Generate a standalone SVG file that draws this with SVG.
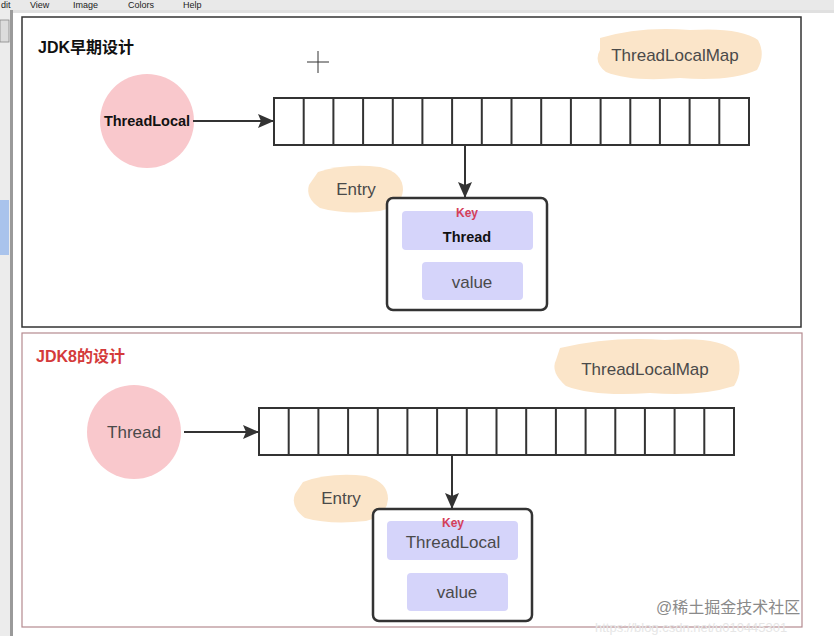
<svg xmlns="http://www.w3.org/2000/svg" width="834" height="636" viewBox="0 0 834 636">
<defs>
<style>
.cell{fill:#fff;stroke:#333;stroke-width:2}
.div{stroke:#333;stroke-width:2;fill:none}
.conn{stroke:#333;stroke-width:2;fill:none}
.blob{fill:#fbe5c9}
.circ{fill:#f9c8cc}
.entry{fill:#fff;stroke:#333;stroke-width:2.5}
.inner{fill:#d5d4fa}
.t{font-family:"Liberation Sans","Noto Sans CJK SC",sans-serif}
.lbl{font-size:17px;fill:#4a4a4a}
.key{font-size:12px;font-weight:bold;fill:#d4405a}
.menu{font-size:9px;fill:#222}
</style>
<marker id="ah" markerWidth="16" markerHeight="14" refX="15" refY="7" orient="auto" markerUnits="userSpaceOnUse" viewBox="0 0 16 14">
<path d="M0,0 L16,7 L0,14 L3,7 Z" fill="#333"/>
</marker>
</defs>
<!-- application chrome -->
<rect x="0" y="0" width="834" height="636" fill="#fff"/>
<rect x="0" y="0" width="834" height="10" fill="#e9e9e9"/>
<text class="t menu" x="1" y="8">dit</text>
<text class="t menu" x="30" y="8">View</text>
<text class="t menu" x="73" y="8">Image</text>
<text class="t menu" x="128" y="8">Colors</text>
<text class="t menu" x="183" y="8">Help</text>
<rect x="0" y="10" width="11" height="626" fill="#ececec"/>
<rect x="0" y="20" width="9" height="22" fill="#dcdcdc" stroke="#888" stroke-width="0.8"/>
<rect x="0" y="200" width="9" height="55" fill="#a9c3ec"/>
<rect x="10" y="10" width="3" height="626" fill="#9a9a9a"/>
<rect x="13" y="10" width="821" height="3" fill="#e0e0e0"/>

<!-- top panel -->
<g id="panel-top">
<rect x="22" y="17" width="779" height="310" fill="#fff" stroke="#333" stroke-width="1.5"/>
<text class="t" x="38" y="53" font-size="16" font-weight="bold" fill="#111">JDK早期设计</text>
<g stroke="#333" stroke-width="1">
<line x1="307" y1="62" x2="329" y2="62"/>
<line x1="318" y1="51" x2="318" y2="73"/>
</g>
</g>
<g id="threadlocal-top">
<circle class="circ" cx="147" cy="121" r="47"/>
<text class="t" x="147" y="126" font-size="14.5" font-weight="bold" fill="#111" text-anchor="middle">ThreadLocal</text>
</g>
<g id="map-top">
<path class="blob" d="M600,38 Q640,26 690,30 Q740,27 758,40 Q766,55 757,70 Q730,82 680,78 Q630,82 606,72 Q593,62 600,50 Z"/>
<text class="t lbl" x="675" y="61" text-anchor="middle">ThreadLocalMap</text>
</g>
<g id="array-top">
<rect class="cell" x="274" y="98" width="475" height="47"/>
<path class="div" d="M303.7,98V145M333.4,98V145M363.1,98V145M392.8,98V145M422.4,98V145M452.1,98V145M481.8,98V145M511.5,98V145M541.2,98V145M570.9,98V145M600.6,98V145M630.3,98V145M659.9,98V145M689.6,98V145M719.3,98V145"/>
</g>
<g id="entry-label-top">
<path class="blob" d="M318,172 Q345,163 380,167 Q403,172 403,190 Q402,206 380,211 Q345,215 320,208 Q305,198 309,185 Z"/>
<text class="t lbl" x="356" y="195" text-anchor="middle">Entry</text>
</g>
<g id="entry-top">
<rect class="entry" x="387" y="198" width="160" height="112" rx="6"/>
<rect class="inner" x="402" y="211" width="131" height="39" rx="4"/>
<text class="t key" x="467" y="217" text-anchor="middle">Key</text>
<text class="t" x="467" y="242" font-size="14.5" font-weight="bold" fill="#111" text-anchor="middle">Thread</text>
<rect class="inner" x="422" y="262" width="101" height="38" rx="4"/>
<text class="t lbl" x="472" y="288" text-anchor="middle">value</text>
</g>

<!-- bottom panel -->
<g id="panel-bottom">
<rect x="22" y="333" width="780" height="294" fill="#fff" stroke="#b58a8f" stroke-width="1.2"/>
<text class="t" x="36" y="362" font-size="16" font-weight="bold" fill="#d43a3a">JDK8的设计</text>
</g>
<g id="thread-bottom">
<circle class="circ" cx="134" cy="432" r="47"/>
<text class="t lbl" x="134" y="438" text-anchor="middle" fill="#333">Thread</text>
</g>
<g id="map-bottom">
<path class="blob" d="M560,348 Q610,336 665,340 Q720,336 736,352 Q744,370 734,386 Q700,397 650,393 Q595,397 566,386 Q550,372 556,360 Z"/>
<text class="t lbl" x="645" y="375" text-anchor="middle">ThreadLocalMap</text>
</g>
<g id="array-bottom">
<rect class="cell" x="259" y="408" width="475" height="47"/>
<path class="div" d="M288.7,408V455M318.4,408V455M348.1,408V455M377.8,408V455M407.4,408V455M437.1,408V455M466.8,408V455M496.5,408V455M526.2,408V455M555.9,408V455M585.6,408V455M615.3,408V455M644.9,408V455M674.6,408V455M704.3,408V455"/>
</g>
<g id="entry-label-bottom">
<path class="blob" d="M303,482 Q330,472 366,476 Q388,482 388,499 Q387,516 366,521 Q330,525 305,518 Q290,507 295,494 Z"/>
<text class="t lbl" x="341" y="504" text-anchor="middle">Entry</text>
</g>
<g id="entry-bottom">
<rect class="entry" x="373" y="509" width="159" height="112" rx="6"/>
<rect class="inner" x="387" y="521" width="131" height="39" rx="4"/>
<text class="t key" x="453" y="527" text-anchor="middle">Key</text>
<text class="t lbl" x="453" y="548" text-anchor="middle" fill="#333">ThreadLocal</text>
<rect class="inner" x="407" y="573" width="101" height="38" rx="4"/>
<text class="t lbl" x="457" y="598" text-anchor="middle">value</text>
</g>

<g id="connectors">
<line class="conn" x1="193" y1="121" x2="273" y2="121" marker-end="url(#ah)"/>
<line class="conn" x1="465" y1="145" x2="465" y2="197" marker-end="url(#ah)"/>
<line class="conn" x1="184" y1="432" x2="258" y2="432" marker-end="url(#ah)"/>
<line class="conn" x1="452" y1="455" x2="452" y2="508" marker-end="url(#ah)"/>
</g>

<g id="watermark">
<text class="t" x="595" y="632" font-size="13" fill="#e6e6e6">https://blog.csdn.net/u010445301</text>
<text class="t" x="656" y="613" font-size="16" fill="#8a8a8a">@稀土掘金技术社区</text>
</g>
</svg>
